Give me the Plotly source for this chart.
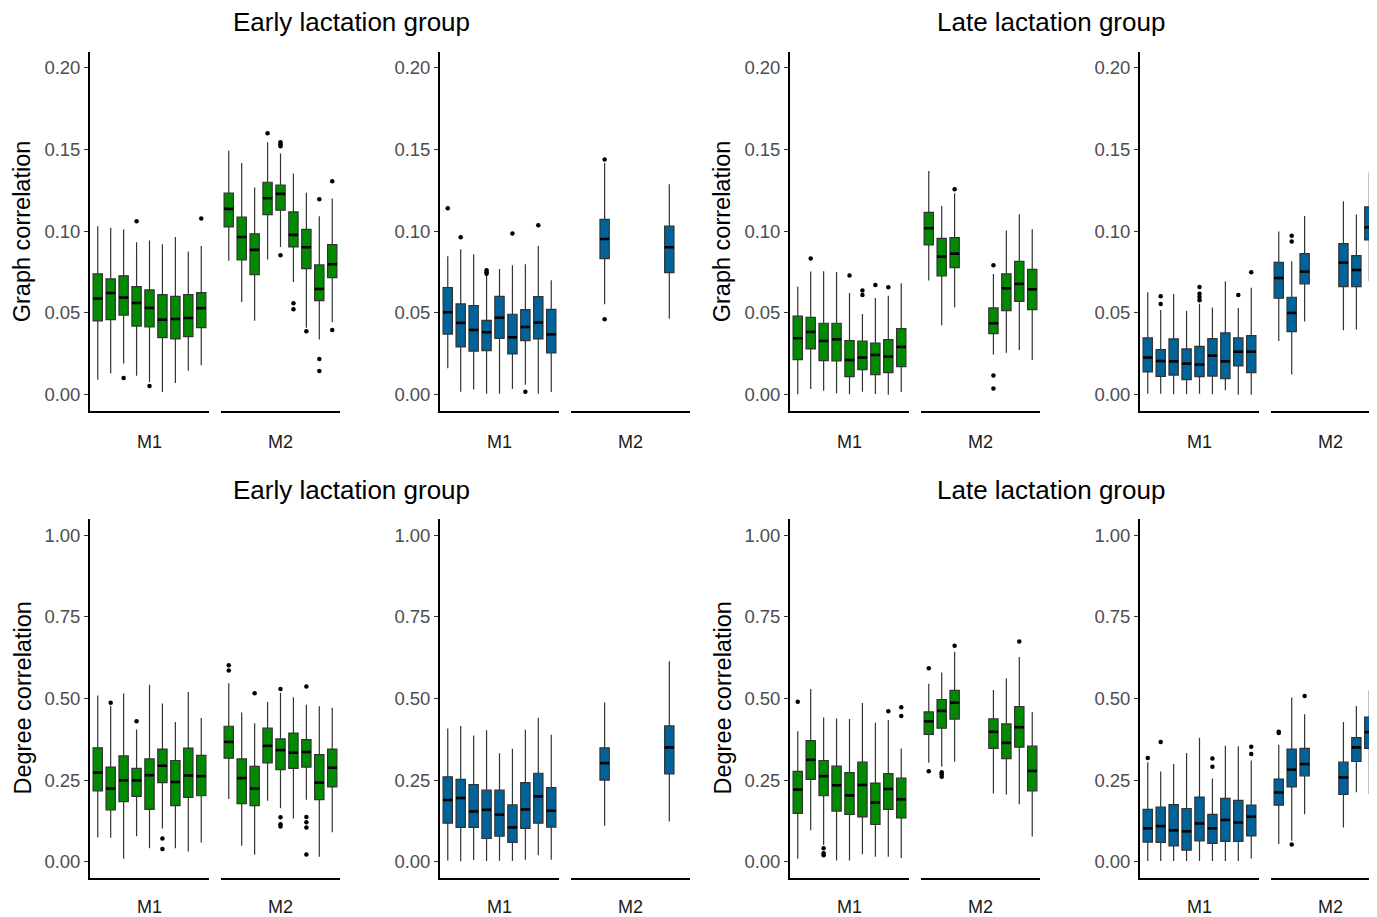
import plotly.graph_objects as go

# ---------------- DATA ----------------
GREEN = "#008B00"
BLUE = "#00649A"

# Panel A: Early lactation, Graph correlation (green)
A_M1_X = [0, 1, 2, 3, 4, 5, 6, 7, 8]
A_M1_LO = [0.0092, 0.0129, 0.0190, 0.0116, 0.0078, 0.0016, 0.0071, 0.0147, 0.0180]
A_M1_Q1 = [0.0451, 0.0459, 0.0486, 0.0420, 0.0414, 0.0349, 0.0341, 0.0355, 0.0410]
A_M1_MED = [0.0588, 0.0622, 0.0594, 0.0561, 0.0531, 0.0459, 0.0463, 0.0469, 0.0529]
A_M1_Q3 = [0.0739, 0.0708, 0.0727, 0.0661, 0.0641, 0.0612, 0.0602, 0.0612, 0.0624]
A_M1_HI = [0.1031, 0.1022, 0.1010, 0.0933, 0.0943, 0.0920, 0.0965, 0.0876, 0.0910]
A_M1_OUTX = [2, 3, 4, 8]
A_M1_OUTY = [0.0102, 0.1061, 0.0053, 0.1078]
A_M2_X = [0, 1, 2, 3, 4, 5, 6, 7, 8]
A_M2_LO = [0.0820, 0.0567, 0.0453, 0.0827, 0.0904, 0.0690, 0.0410, 0.0337, 0.0445]
A_M2_Q1 = [0.1027, 0.0824, 0.0735, 0.1102, 0.1129, 0.0904, 0.0771, 0.0576, 0.0716]
A_M2_MED = [0.1137, 0.0965, 0.0886, 0.1202, 0.1229, 0.0978, 0.0902, 0.0647, 0.0798]
A_M2_Q3 = [0.1233, 0.1086, 0.0984, 0.1300, 0.1282, 0.1118, 0.1012, 0.0794, 0.0918]
A_M2_HI = [0.1492, 0.1418, 0.1267, 0.1545, 0.1476, 0.1353, 0.1235, 0.1092, 0.1200]
A_M2_OUTX = [3, 4, 4, 4, 4, 5, 5, 6, 7, 7, 7, 8, 8]
A_M2_OUTY = [0.1600, 0.1545, 0.1533, 0.1520, 0.0853, 0.0559, 0.0522, 0.0388,
             0.1196, 0.0218, 0.0145, 0.1306, 0.0396]

# Panel B: Early lactation, Graph correlation (blue)
B_M1_X = [0, 1, 2, 3, 4, 5, 6, 7, 8]
B_M1_LO = [0.0161, 0.0018, 0.0031, 0.0006, 0.0006, 0.0035, 0.0061, 0.0006, 0.0016]
B_M1_Q1 = [0.0371, 0.0292, 0.0267, 0.0269, 0.0345, 0.0249, 0.0331, 0.0341, 0.0255]
B_M1_MED = [0.0504, 0.0439, 0.0396, 0.0382, 0.0471, 0.0351, 0.0414, 0.0441, 0.0369]
B_M1_Q3 = [0.0655, 0.0555, 0.0545, 0.0455, 0.0602, 0.0492, 0.0520, 0.0600, 0.0522]
B_M1_HI = [0.0847, 0.0890, 0.0859, 0.0733, 0.0769, 0.0792, 0.0798, 0.0910, 0.0700]
B_M1_OUTX = [0, 1, 3, 3, 3, 5, 6, 7]
B_M1_OUTY = [0.1141, 0.0963, 0.0761, 0.0749, 0.0740, 0.0986, 0.0018, 0.1037]
B_M2_X = [2, 7]
B_M2_LO = [0.0553, 0.0465]
B_M2_Q1 = [0.0833, 0.0747]
B_M2_MED = [0.0953, 0.0902]
B_M2_Q3 = [0.1073, 0.1031]
B_M2_HI = [0.1418, 0.1288]
B_M2_OUTX = [2, 2]
B_M2_OUTY = [0.1439, 0.0461]

# Panel C: Late lactation, Graph correlation (green)
C_M1_X = [0, 1, 2, 3, 4, 5, 6, 7, 8]
C_M1_LO = [0.0002, 0.0035, 0.0024, 0.0008, 0.0002, 0.0018, 0.0004, 0.0000, 0.0016]
C_M1_Q1 = [0.0214, 0.0280, 0.0208, 0.0206, 0.0110, 0.0153, 0.0122, 0.0135, 0.0171]
C_M1_MED = [0.0345, 0.0384, 0.0329, 0.0339, 0.0212, 0.0227, 0.0243, 0.0233, 0.0292]
C_M1_Q3 = [0.0480, 0.0473, 0.0437, 0.0437, 0.0331, 0.0327, 0.0316, 0.0337, 0.0404]
C_M1_HI = [0.0661, 0.0753, 0.0755, 0.0751, 0.0622, 0.0494, 0.0592, 0.0606, 0.0682]
C_M1_OUTX = [1, 4, 5, 5, 6, 7]
C_M1_OUTY = [0.0833, 0.0729, 0.0637, 0.0610, 0.0671, 0.0657]
C_M2_X = [0, 1, 2, 5, 6, 7, 8]
C_M2_LO = [0.0698, 0.0424, 0.0535, 0.0245, 0.0257, 0.0273, 0.0212]
C_M2_Q1 = [0.0916, 0.0727, 0.0778, 0.0373, 0.0514, 0.0571, 0.0520]
C_M2_MED = [0.1018, 0.0845, 0.0863, 0.0437, 0.0651, 0.0678, 0.0645]
C_M2_Q3 = [0.1116, 0.0957, 0.0961, 0.0531, 0.0739, 0.0816, 0.0767]
C_M2_HI = [0.1369, 0.1155, 0.1233, 0.0739, 0.1004, 0.1104, 0.1012]
C_M2_OUTX = [2, 5, 5, 5]
C_M2_OUTY = [0.1257, 0.0792, 0.0118, 0.0037]

# Panel D: Late lactation, Graph correlation (blue)
D_M1_X = [0, 1, 2, 3, 4, 5, 6, 7, 8]
D_M1_LO = [0.0006, 0.0006, 0.0002, 0.0002, 0.0006, 0.0002, 0.0027, 0.0000, 0.0000]
D_M1_Q1 = [0.0139, 0.0112, 0.0120, 0.0092, 0.0110, 0.0114, 0.0098, 0.0176, 0.0135]
D_M1_MED = [0.0227, 0.0206, 0.0204, 0.0190, 0.0184, 0.0239, 0.0204, 0.0263, 0.0263]
D_M1_Q3 = [0.0347, 0.0276, 0.0341, 0.0280, 0.0296, 0.0343, 0.0378, 0.0347, 0.0361]
D_M1_HI = [0.0627, 0.0518, 0.0616, 0.0512, 0.0557, 0.0533, 0.0694, 0.0531, 0.0655]
D_M1_OUTX = [1, 1, 4, 4, 4, 4, 7, 8]
D_M1_OUTY = [0.0602, 0.0555, 0.0659, 0.0618, 0.0598, 0.0578, 0.0610, 0.0749]
D_M2_X = [0, 1, 2, 5, 6, 7, 8]
D_M2_LO = [0.0329, 0.0124, 0.0447, 0.0394, 0.0398, 0.0696, 0.0500]
D_M2_Q1 = [0.0590, 0.0386, 0.0678, 0.0661, 0.0661, 0.0947, 0.0704]
D_M2_MED = [0.0714, 0.0500, 0.0753, 0.0808, 0.0763, 0.1024, 0.0800]
D_M2_Q3 = [0.0810, 0.0596, 0.0863, 0.0924, 0.0851, 0.1149, 0.0924]
D_M2_HI = [0.0998, 0.0816, 0.1094, 0.1184, 0.1102, 0.1359, 0.1150]
D_M2_OUTX = [1, 1]
D_M2_OUTY = [0.0973, 0.0937]

# Panel E: Early lactation, Degree correlation (green)
E_M1_X = [0, 1, 2, 3, 4, 5, 6, 7, 8]
E_M1_LO = [0.074, 0.073, 0.009, 0.078, 0.041, 0.102, 0.041, 0.031, 0.059]
E_M1_Q1 = [0.217, 0.159, 0.184, 0.200, 0.160, 0.242, 0.172, 0.197, 0.202]
E_M1_MED = [0.273, 0.224, 0.249, 0.249, 0.265, 0.294, 0.244, 0.264, 0.262]
E_M1_Q3 = [0.349, 0.290, 0.324, 0.286, 0.315, 0.345, 0.310, 0.348, 0.326]
E_M1_HI = [0.509, 0.478, 0.515, 0.405, 0.542, 0.485, 0.428, 0.520, 0.440]
E_M1_OUTX = [1, 3, 5, 5]
E_M1_OUTY = [0.487, 0.430, 0.071, 0.039]
E_M2_X = [0, 1, 2, 3, 4, 5, 6, 7, 8]
E_M2_LO = [0.192, 0.049, 0.021, 0.187, 0.164, 0.132, 0.190, 0.015, 0.090]
E_M2_Q1 = [0.317, 0.178, 0.172, 0.303, 0.282, 0.286, 0.290, 0.190, 0.229]
E_M2_MED = [0.367, 0.256, 0.224, 0.355, 0.342, 0.334, 0.336, 0.242, 0.288]
E_M2_Q3 = [0.415, 0.315, 0.292, 0.409, 0.376, 0.394, 0.374, 0.328, 0.345]
E_M2_HI = [0.547, 0.457, 0.424, 0.489, 0.518, 0.504, 0.481, 0.476, 0.472]
E_M2_OUTX = [0, 0, 2, 4, 4, 4, 4, 6, 6, 6, 6, 6]
E_M2_OUTY = [0.602, 0.586, 0.516, 0.529, 0.136, 0.115, 0.108, 0.537,
             0.137, 0.121, 0.105, 0.022]

# Panel F: Early lactation, Degree correlation (blue)
F_M1_X = [0, 1, 2, 3, 4, 5, 6, 7, 8]
F_M1_LO = [0.004, 0.001, 0.005, 0.002, 0.003, 0.002, 0.006, 0.020, 0.006]
F_M1_Q1 = [0.118, 0.105, 0.105, 0.071, 0.078, 0.059, 0.102, 0.118, 0.106]
F_M1_MED = [0.189, 0.195, 0.154, 0.159, 0.144, 0.105, 0.160, 0.200, 0.156]
F_M1_Q3 = [0.260, 0.252, 0.236, 0.219, 0.219, 0.174, 0.242, 0.271, 0.227]
F_M1_HI = [0.408, 0.416, 0.387, 0.403, 0.332, 0.346, 0.404, 0.441, 0.389]
F_M1_OUTX = []
F_M1_OUTY = []
F_M2_X = [2, 7]
F_M2_LO = [0.110, 0.123]
F_M2_Q1 = [0.250, 0.269]
F_M2_MED = [0.302, 0.350]
F_M2_Q3 = [0.349, 0.416]
F_M2_HI = [0.488, 0.614]
F_M2_OUTX = []
F_M2_OUTY = []

# Panel G: Late lactation, Degree correlation (green)
G_M1_X = [0, 1, 2, 3, 4, 5, 6, 7, 8]
G_M1_LO = [0.009, 0.096, 0.051, 0.004, 0.004, 0.023, 0.015, 0.015, 0.011]
G_M1_Q1 = [0.148, 0.252, 0.202, 0.155, 0.145, 0.137, 0.114, 0.160, 0.134]
G_M1_MED = [0.221, 0.312, 0.262, 0.234, 0.203, 0.235, 0.181, 0.223, 0.191]
G_M1_Q3 = [0.277, 0.371, 0.310, 0.293, 0.273, 0.305, 0.241, 0.270, 0.256]
G_M1_HI = [0.400, 0.529, 0.442, 0.439, 0.437, 0.486, 0.426, 0.434, 0.347]
G_M1_OUTX = [0, 2, 2, 2, 7, 8, 8]
G_M1_OUTY = [0.490, 0.041, 0.026, 0.020, 0.461, 0.473, 0.446]
G_M2_X = [0, 1, 2, 5, 6, 7, 8]
G_M2_LO = [0.303, 0.291, 0.306, 0.209, 0.206, 0.176, 0.077]
G_M2_Q1 = [0.390, 0.409, 0.437, 0.347, 0.316, 0.351, 0.217]
G_M2_MED = [0.430, 0.462, 0.487, 0.398, 0.364, 0.412, 0.278]
G_M2_Q3 = [0.459, 0.497, 0.525, 0.438, 0.422, 0.475, 0.354]
G_M2_HI = [0.545, 0.580, 0.643, 0.526, 0.562, 0.627, 0.459]
G_M2_OUTX = [0, 0, 1, 1, 1, 2, 7]
G_M2_OUTY = [0.593, 0.277, 0.274, 0.268, 0.260, 0.662, 0.675]

# Panel H: Late lactation, Degree correlation (blue)
H_M1_X = [0, 1, 2, 3, 4, 5, 6, 7, 8]
H_M1_LO = [0.002, 0.002, 0.002, 0.002, 0.002, 0.002, 0.002, 0.002, 0.010]
H_M1_Q1 = [0.060, 0.059, 0.048, 0.035, 0.064, 0.056, 0.062, 0.062, 0.079]
H_M1_MED = [0.102, 0.109, 0.096, 0.093, 0.117, 0.102, 0.128, 0.120, 0.138]
H_M1_Q3 = [0.160, 0.167, 0.175, 0.163, 0.198, 0.145, 0.194, 0.188, 0.173]
H_M1_HI = [0.305, 0.276, 0.299, 0.333, 0.380, 0.255, 0.355, 0.354, 0.310]
H_M1_OUTX = [0, 1, 5, 5, 8, 8]
H_M1_OUTY = [0.318, 0.367, 0.316, 0.291, 0.352, 0.330]
H_M2_X = [0, 1, 2, 5, 6, 7, 8]
H_M2_LO = [0.054, 0.064, 0.145, 0.105, 0.213, 0.207, 0.200]
H_M2_Q1 = [0.173, 0.229, 0.263, 0.206, 0.307, 0.347, 0.307]
H_M2_MED = [0.212, 0.282, 0.299, 0.258, 0.350, 0.397, 0.370]
H_M2_Q3 = [0.253, 0.345, 0.347, 0.305, 0.380, 0.443, 0.430]
H_M2_HI = [0.358, 0.503, 0.452, 0.428, 0.477, 0.525, 0.520]
H_M2_OUTX = [0, 0, 1, 2]
H_M2_OUTY = [0.398, 0.394, 0.053, 0.508]

TITLES = ["Early lactation group", "Late lactation group"]
YTITLES = ["Graph correlation", "Degree correlation"]
FACETS = ["M1", "M2"]
GRAPH_TICKS = [0.00, 0.05, 0.10, 0.15, 0.20]
DEGREE_TICKS = [0.00, 0.25, 0.50, 0.75, 1.00]

# ---------------- ASSEMBLY ----------------
PANELS = [
    (GREEN, [(A_M1_X, A_M1_LO, A_M1_Q1, A_M1_MED, A_M1_Q3, A_M1_HI, A_M1_OUTX, A_M1_OUTY),
             (A_M2_X, A_M2_LO, A_M2_Q1, A_M2_MED, A_M2_Q3, A_M2_HI, A_M2_OUTX, A_M2_OUTY)]),
    (BLUE, [(B_M1_X, B_M1_LO, B_M1_Q1, B_M1_MED, B_M1_Q3, B_M1_HI, B_M1_OUTX, B_M1_OUTY),
            (B_M2_X, B_M2_LO, B_M2_Q1, B_M2_MED, B_M2_Q3, B_M2_HI, B_M2_OUTX, B_M2_OUTY)]),
    (GREEN, [(C_M1_X, C_M1_LO, C_M1_Q1, C_M1_MED, C_M1_Q3, C_M1_HI, C_M1_OUTX, C_M1_OUTY),
             (C_M2_X, C_M2_LO, C_M2_Q1, C_M2_MED, C_M2_Q3, C_M2_HI, C_M2_OUTX, C_M2_OUTY)]),
    (BLUE, [(D_M1_X, D_M1_LO, D_M1_Q1, D_M1_MED, D_M1_Q3, D_M1_HI, D_M1_OUTX, D_M1_OUTY),
            (D_M2_X, D_M2_LO, D_M2_Q1, D_M2_MED, D_M2_Q3, D_M2_HI, D_M2_OUTX, D_M2_OUTY)]),
    (GREEN, [(E_M1_X, E_M1_LO, E_M1_Q1, E_M1_MED, E_M1_Q3, E_M1_HI, E_M1_OUTX, E_M1_OUTY),
             (E_M2_X, E_M2_LO, E_M2_Q1, E_M2_MED, E_M2_Q3, E_M2_HI, E_M2_OUTX, E_M2_OUTY)]),
    (BLUE, [(F_M1_X, F_M1_LO, F_M1_Q1, F_M1_MED, F_M1_Q3, F_M1_HI, F_M1_OUTX, F_M1_OUTY),
            (F_M2_X, F_M2_LO, F_M2_Q1, F_M2_MED, F_M2_Q3, F_M2_HI, F_M2_OUTX, F_M2_OUTY)]),
    (GREEN, [(G_M1_X, G_M1_LO, G_M1_Q1, G_M1_MED, G_M1_Q3, G_M1_HI, G_M1_OUTX, G_M1_OUTY),
             (G_M2_X, G_M2_LO, G_M2_Q1, G_M2_MED, G_M2_Q3, G_M2_HI, G_M2_OUTX, G_M2_OUTY)]),
    (BLUE, [(H_M1_X, H_M1_LO, H_M1_Q1, H_M1_MED, H_M1_Q3, H_M1_HI, H_M1_OUTX, H_M1_OUTY),
            (H_M2_X, H_M2_LO, H_M2_Q1, H_M2_MED, H_M2_Q3, H_M2_HI, H_M2_OUTX, H_M2_OUTY)]),
]

SCREEN_W, SCREEN_H = 1377, 917
OFF = 8  # default page body margin
W, H = SCREEN_W - OFF, SCREEN_H - OFF
FONT = "Liberation Sans, Arial, sans-serif"
BOXW = 0.72
PX_PER_UNIT = 119 / 9.2

def px_x(p):
    return (p - OFF) / W

def px_y(p):
    return 1 - (p - OFF) / H

fig = go.Figure()
layout = dict(
    width=W, height=H, margin=dict(l=0, r=0, t=0, b=0),
    paper_bgcolor="white", plot_bgcolor="white",
    showlegend=False, font=dict(family=FONT, color="black"),
)
annotations = []

ROW_Y = [(51.5, 411.0), (519.0, 878.0)]
ROW_RANGE = [[-0.01, 0.21], [-0.05, 1.05]]
ROW_TICKS = [GRAPH_TICKS, DEGREE_TICKS]
LABEL_Y = [442, 907]
TITLE_Y = [22, 490]

for p, (color, facets) in enumerate(PANELS):
    row, col = divmod(p, 4)
    yname = f"y{p + 1}"
    ytop, ybot = ROW_Y[row]
    ticks = ROW_TICKS[row]
    layout[f"yaxis{p + 1}"] = dict(
        domain=[px_y(ybot), px_y(ytop)], range=ROW_RANGE[row],
        anchor=f"x{2 * p + 1}", showline=True, linecolor="black", linewidth=1.8,
        ticks="outside", ticklen=4, tickwidth=1.2, tickcolor="#333333",
        tickvals=ticks, ticktext=[f"{t:.2f}" for t in ticks],
        tickfont=dict(size=18.5, color="#4d4d4d", family=FONT),
        showgrid=False, zeroline=False, fixedrange=True,
    )
    for f, (xs, lo, q1, med, q3, hi, ox, oy) in enumerate(facets):
        k = 2 * p + f + 1
        x0 = 90 + 350 * col + (0 if f == 0 else 131)
        x1 = x0 + 119
        rng = [-0.6, 8.6]
        if x1 > SCREEN_W:
            rng = [-0.6, -0.6 + (SCREEN_W - x0) / PX_PER_UNIT]
            x1 = SCREEN_W
        layout[f"xaxis{k}"] = dict(
            domain=[px_x(x0), px_x(x1)], range=rng, anchor=yname,
            showline=True, linecolor="black", linewidth=1.8,
            showticklabels=False, ticks="", showgrid=False, zeroline=False,
            fixedrange=True, type="linear",
        )
        fig.add_trace(go.Box(
            x=xs, q1=q1, median=med, q3=q3, lowerfence=lo, upperfence=hi,
            width=BOXW, whiskerwidth=0, boxpoints=False,
            fillcolor=color, line=dict(color="#333333", width=1.2),
            xaxis=f"x{k}", yaxis=yname, hoverinfo="skip",
        ))
        # thick median bars
        mx, my = [], []
        for xv, mv in zip(xs, med):
            mx += [xv - BOXW / 2, xv + BOXW / 2, None]
            my += [mv, mv, None]
        fig.add_trace(go.Scatter(
            x=mx, y=my, mode="lines", line=dict(color="black", width=2.6),
            xaxis=f"x{k}", yaxis=yname, hoverinfo="skip",
        ))
        if ox:
            fig.add_trace(go.Scatter(
                x=ox, y=oy, mode="markers",
                marker=dict(color="black", size=4.5),
                xaxis=f"x{k}", yaxis=yname, hoverinfo="skip",
            ))
        annotations.append(dict(
            text=FACETS[f], x=px_x((x0 + x0 + 119) / 2), y=px_y(LABEL_Y[row]),
            xref="paper", yref="paper", xanchor="center", yanchor="middle",
            showarrow=False, font=dict(size=18, color="#1a1a1a", family=FONT),
        ))

for row in range(2):
    for half in range(2):
        annotations.append(dict(
            text=TITLES[half], x=px_x(351 + 700 * half), y=px_y(TITLE_Y[row]),
            xref="paper", yref="paper", xanchor="center", yanchor="middle",
            showarrow=False, font=dict(size=26, color="black", family=FONT),
        ))
        ytop, ybot = ROW_Y[row]
        annotations.append(dict(
            text=YTITLES[row], x=px_x(22 + 700 * half), y=px_y((ytop + ybot) / 2),
            xref="paper", yref="paper", xanchor="center", yanchor="middle",
            textangle=-90, showarrow=False,
            font=dict(size=23.5, color="black", family=FONT),
        ))

layout["annotations"] = annotations
fig.update_layout(**layout)
fig.write_html("out.html")
